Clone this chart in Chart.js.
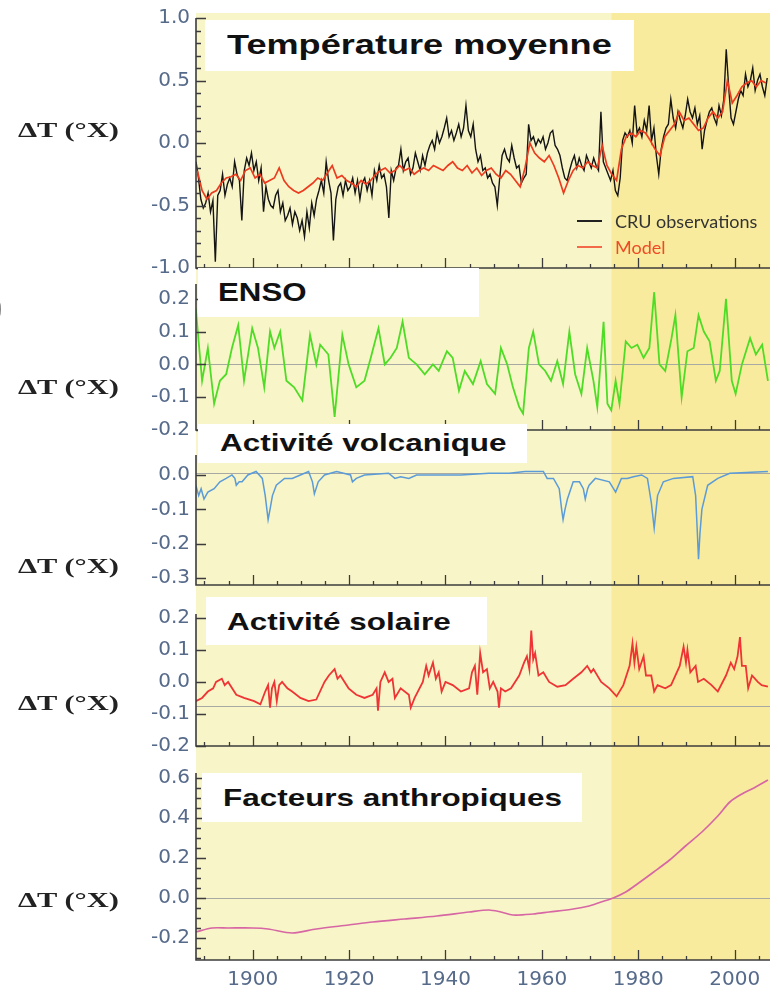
<!DOCTYPE html>
<html>
<head>
<meta charset="utf-8">
<script src="https://cdn.jsdelivr.net/npm/chart.js@4.4.1/dist/chart.umd.min.js"></script>
<style>
  body { margin: 0; background: #fff; }
  #wrap { position: relative; width: 778px; height: 992px; overflow: hidden; }
  canvas { position: absolute; left: 0; }
  .box { position: absolute; background: #fff; z-index: 5; }
  .box span { position: absolute; white-space: nowrap; font-family: "Liberation Sans", Arial, sans-serif;
    font-weight: bold; color: #111; transform-origin: left center; }
  .dt { position: absolute; left: 18px; z-index: 5; font-family: "Liberation Serif", serif; font-weight: bold;
    font-size: 21px; color: #222; white-space: nowrap; transform: scaleX(1.45); transform-origin: left center; line-height: 24px; }
  .leg { position: absolute; z-index: 5; font-family: Lato, sans-serif; font-size: 18px; white-space: nowrap; line-height: 20px; }
  .legline { position: absolute; height: 2px; z-index: 5; }
</style>
</head>
<body>
<div id="wrap">
  <canvas id="c1" style="top:0px" width="778" height="290"></canvas>
  <canvas id="c2" style="top:264px" width="778" height="188"></canvas>
  <canvas id="c3" style="top:428px" width="778" height="181"></canvas>
  <canvas id="c4" style="top:585px" width="778" height="187"></canvas>
  <canvas id="c5" style="top:748px" width="778" height="244"></canvas>

  <div class="box" style="left:205px;top:20px;width:429px;height:51px"><span style="left:22px;top:9px;font-size:28px;transform:scaleX(1.29)">Température moyenne</span></div>
  <div class="box" style="left:198px;top:268px;width:281px;height:49px"><span style="left:20px;top:10px;font-size:25px;transform:scaleX(1.25)">ENSO</span></div>
  <div class="box" style="left:198px;top:424px;width:329px;height:39px"><span style="left:22px;top:5px;font-size:24px;transform:scaleX(1.31)">Activité volcanique</span></div>
  <div class="box" style="left:206px;top:597px;width:281px;height:48px"><span style="left:21px;top:11px;font-size:24px;transform:scaleX(1.31)">Activité solaire</span></div>
  <div class="box" style="left:202px;top:773px;width:380px;height:49px"><span style="left:21px;top:11px;font-size:24px;transform:scaleX(1.31)">Facteurs anthropiques</span></div>

  <div class="dt" style="top:118px">ΔT (°X)</div>
  <div class="dt" style="top:375px">ΔT (°X)</div>
  <div class="dt" style="top:554px">ΔT (°X)</div>
  <div class="dt" style="top:691px">ΔT (°X)</div>
  <div class="dt" style="top:888px">ΔT (°X)</div>
  <div style="position:absolute;left:-12px;top:280px;font-family:'Liberation Serif',serif;font-size:44px;color:#555">)</div>

  <div class="legline" style="left:577px;top:220px;width:25px;background:#222"></div>
  <div class="leg" style="left:615px;top:211px;color:#333">CRU observations</div>
  <div class="legline" style="left:577px;top:246px;width:25px;background:#f26a4a"></div>
  <div class="leg" style="left:615px;top:237px;color:#f04a24">Model</div>
</div>
<script>
// x axis
const xMin = 1888.24, xMax = 2007.33
const shadeFrom = 1974.4
const xLabels = [1900, 1920, 1940, 1960, 1980, 2000]

// Température moyenne : CRU observations (2 values a year from 1888.25) and model (1 a year from 1888.5)
const obsStart = 1888.25
const obsValues = [
  -0.15,-0.28,-0.45,-0.52,-0.48,-0.40,-0.55,-0.46,-0.95,-0.42,
  -0.38,-0.25,-0.42,-0.33,-0.28,-0.35,-0.15,-0.25,-0.30,-0.62,
  -0.22,-0.12,-0.18,-0.08,-0.22,-0.15,-0.30,-0.20,-0.55,-0.35,
  -0.45,-0.50,-0.52,-0.42,-0.38,-0.55,-0.48,-0.62,-0.58,-0.52,
  -0.65,-0.55,-0.60,-0.70,-0.62,-0.75,-0.55,-0.68,-0.48,-0.58,
  -0.45,-0.38,-0.30,-0.40,-0.15,-0.30,-0.40,-0.78,-0.45,-0.35,
  -0.32,-0.42,-0.30,-0.38,-0.35,-0.28,-0.40,-0.30,-0.45,-0.32,
  -0.28,-0.38,-0.30,-0.42,-0.22,-0.30,-0.18,-0.28,-0.25,-0.35,
  -0.60,-0.22,-0.30,-0.20,-0.18,-0.05,-0.22,-0.15,-0.12,-0.25,
  -0.20,-0.08,-0.15,-0.22,-0.10,-0.18,-0.08,-0.02,0.02,-0.05,
  0.08,0.00,0.05,0.12,0.20,0.05,0.10,0.02,0.08,0.15,
  0.05,0.12,0.30,0.10,0.05,0.15,-0.05,-0.15,-0.10,-0.22,
  -0.20,-0.28,-0.25,-0.32,-0.35,-0.50,-0.28,-0.10,-0.05,-0.12,
  -0.15,-0.02,-0.12,-0.20,-0.18,-0.32,-0.28,-0.25,0.15,0.02,
  0.05,-0.02,0.03,0.00,0.05,-0.05,0.00,0.08,0.10,-0.02,
  -0.05,-0.10,-0.20,-0.28,-0.30,-0.22,-0.15,-0.10,-0.20,-0.12,
  -0.18,-0.22,-0.10,-0.15,-0.20,-0.12,-0.18,-0.22,0.25,-0.15,
  -0.20,-0.25,-0.30,-0.22,-0.38,-0.42,-0.28,0.02,0.08,0.05,
  0.10,0.00,0.30,0.08,0.12,0.05,0.18,0.10,0.30,0.02,
  0.12,-0.10,-0.25,-0.05,0.05,0.12,0.15,0.35,0.20,0.12,
  0.25,0.18,0.12,0.22,0.35,0.25,0.20,0.28,0.15,0.22,
  -0.05,0.10,0.18,0.25,0.28,0.20,0.15,0.30,0.22,0.35,
  0.75,0.45,0.20,0.15,0.25,0.35,0.42,0.38,0.55,0.45,
  0.50,0.60,0.42,0.50,0.55,0.45,0.38,0.52
]
const modelStart = 1888.5
const modelValues = [
  -0.22,-0.38,-0.45,-0.40,-0.38,-0.32,-0.28,-0.27,-0.25,-0.30,
  -0.22,-0.20,-0.28,-0.25,-0.32,-0.30,-0.28,-0.20,-0.30,-0.35,
  -0.38,-0.40,-0.38,-0.35,-0.32,-0.28,-0.30,-0.24,-0.18,-0.28,
  -0.26,-0.30,-0.32,-0.35,-0.30,-0.33,-0.30,-0.25,-0.22,-0.20,
  -0.24,-0.22,-0.18,-0.22,-0.20,-0.25,-0.22,-0.20,-0.22,-0.18,
  -0.20,-0.22,-0.18,-0.15,-0.20,-0.22,-0.18,-0.24,-0.20,-0.26,
  -0.22,-0.20,-0.25,-0.28,-0.22,-0.25,-0.30,-0.35,-0.20,0.00,
  -0.08,-0.12,-0.15,-0.10,-0.18,-0.28,-0.40,-0.30,-0.22,-0.18,
  -0.20,-0.15,-0.18,-0.20,-0.02,-0.18,-0.25,-0.30,-0.05,0.05,
  0.08,0.05,0.10,0.08,0.02,-0.05,-0.10,0.05,0.10,0.15,
  0.25,0.18,0.20,0.15,0.10,0.12,0.20,0.25,0.20,0.25,
  0.50,0.32,0.38,0.45,0.48,0.50,0.45,0.50,0.48
]

// ENSO
const ensoYears = [1888.2,1889.5,1890.7,1892,1893.2,1894.5,1895.7,1897,1898.2,1899.9,1901.1,1902.4,1903.6,1904.5,1905.7,1907,1908.6,1910.3,1911.9,1913.2,1914,1915.7,1917,1918.6,1919.9,1921.5,1923.2,1924.5,1926.1,1927.4,1928.6,1929.9,1931.1,1932.4,1934,1935.7,1937.4,1938.6,1940.3,1941.5,1942.8,1944,1945.7,1947.3,1948.6,1950.3,1951.5,1952.8,1954,1955.3,1956.1,1957.3,1958.2,1959.4,1960.7,1961.9,1963.2,1964.4,1965.7,1966.9,1968.2,1969.4,1970.7,1971.5,1972.8,1973.6,1974.4,1975.3,1976.1,1977.4,1978.6,1979.8,1981.1,1982.3,1983.3,1984.4,1985.6,1986.9,1987.7,1989,1990.2,1991.5,1992.5,1993.6,1994.8,1996.1,1996.9,1998.2,1999.4,2000.2,2001.5,2003.2,2004.4,2005.7,2006.9]
const ensoValues = [0.17,-0.05,0.05,-0.12,-0.05,-0.03,0.05,0.12,-0.05,0.11,0.05,-0.07,0.10,0.05,0.10,-0.05,-0.07,-0.11,0.09,0.00,0.06,0.03,-0.16,0.09,0.00,-0.07,-0.05,0.02,0.11,0.00,0.02,0.05,0.13,0.02,0.00,-0.03,0.00,-0.02,0.04,0.02,-0.08,-0.02,-0.06,0.01,-0.06,-0.09,0.05,0.00,-0.07,-0.13,-0.15,0.05,0.10,0.00,-0.02,-0.05,0.01,-0.06,0.10,-0.03,-0.09,0.05,-0.05,-0.13,0.13,-0.12,-0.14,-0.05,-0.12,0.07,0.05,0.06,0.02,0.05,0.22,0.00,-0.02,0.08,0.15,-0.10,0.04,0.05,0.15,0.10,0.07,-0.05,-0.02,0.20,-0.05,-0.09,0.00,0.08,0.03,0.06,-0.05]

// Activité volcanique
const volcYears = [1888.2,1888.8,1889.3,1889.9,1890.7,1892,1893.2,1894.5,1895.7,1896.3,1896.6,1897.2,1897.8,1899,1900.7,1902,1902.6,1903.2,1903.6,1904.1,1904.9,1906.6,1908.2,1909.9,1911.6,1912.4,1912.8,1913.6,1914.9,1917.4,1920.3,1920.7,1921.5,1923.2,1928.2,1929.5,1930.7,1932.4,1934,1936.5,1943.2,1949,1953.2,1956.5,1960.3,1961.1,1962.4,1963.6,1964.1,1964.4,1964.8,1965.3,1966.5,1967.8,1968.6,1969,1969.5,1969.8,1971.1,1974,1975.3,1976.5,1977.7,1979,1980.7,1981.9,1982.7,1983.3,1983.7,1984,1985.2,1987.3,1991.3,1991.9,1992.2,1992.5,1992.8,1993.2,1994.4,1996.5,1999,2006.9]
const volcValues = [-0.03,-0.06,-0.04,-0.07,-0.05,-0.04,-0.02,-0.01,0.00,-0.01,-0.03,-0.02,-0.02,0.00,0.01,-0.01,-0.06,-0.13,-0.10,-0.06,-0.03,-0.01,-0.01,0.00,0.01,-0.02,-0.055,-0.02,0.00,0.01,0.00,-0.02,-0.01,0.00,0.005,-0.01,-0.005,-0.01,0.00,0.00,0.00,0.005,0.005,0.01,0.01,-0.01,-0.01,-0.04,-0.10,-0.13,-0.10,-0.07,-0.02,-0.02,-0.04,-0.07,-0.04,-0.03,-0.01,-0.02,-0.05,-0.01,-0.01,-0.005,0.00,-0.01,-0.08,-0.155,-0.10,-0.06,-0.02,-0.01,-0.005,-0.06,-0.15,-0.245,-0.17,-0.10,-0.03,-0.01,0.005,0.01]

// Activité solaire
const solarYears = [1888.2,1889.5,1890.7,1891.8,1892.4,1893.6,1894.2,1894.9,1896.6,1898.2,1900.3,1901.6,1902.6,1903.2,1903.6,1904,1904.5,1905,1905.5,1906.1,1907.2,1908.2,1909.9,1911.6,1913.2,1914.9,1915.8,1917,1917.6,1918.2,1919.9,1921.5,1923.2,1924.9,1925.7,1926,1926.5,1927.4,1928.2,1929,1929.5,1930.7,1932.4,1932.8,1933.6,1935.3,1936,1936.5,1937.4,1938,1938.6,1939.2,1940,1941.5,1943.2,1944.9,1945.5,1946.1,1946.6,1947.2,1947.8,1948.6,1949.2,1949.9,1950.8,1951.1,1951.5,1952.4,1953.6,1955.3,1956.3,1956.9,1957.4,1957.8,1958.2,1958.6,1959.3,1960.3,1961.5,1963.2,1964.9,1966.5,1968.2,1969.4,1970.2,1970.7,1972.3,1974,1975.5,1976.9,1978.2,1978.8,1979.2,1979.6,1980.2,1981.1,1981.6,1982.7,1983.3,1984,1985.6,1986.8,1988.6,1989.4,1989.9,1990.2,1990.8,1991.9,1992.4,1993.6,1995.2,1996.5,1998.2,1999.2,1999.9,2000.6,2001.1,2001.5,2002.3,2002.8,2003.6,2004.8,2005.6,2006.9]
const solarValues = [-0.06,-0.05,-0.03,-0.02,0.00,0.01,-0.01,0.00,-0.04,-0.05,-0.06,-0.07,-0.03,-0.01,-0.08,-0.02,0.00,-0.06,-0.01,0.00,-0.02,-0.03,-0.05,-0.06,-0.055,0.00,0.02,0.04,0.01,0.02,-0.02,-0.04,-0.05,-0.04,-0.02,-0.09,0.00,0.03,0.00,0.01,-0.05,-0.02,-0.04,-0.08,-0.05,0.00,0.05,0.02,0.06,0.01,0.03,-0.03,0.00,-0.01,-0.03,-0.02,0.03,0.05,-0.04,0.09,0.03,0.04,-0.02,0.00,-0.03,-0.08,-0.02,-0.03,-0.02,0.02,0.06,0.08,0.04,0.16,0.07,0.09,0.02,0.03,0.00,-0.015,-0.01,0.01,0.03,0.05,0.03,0.04,0.00,-0.02,-0.045,-0.01,0.05,0.12,0.06,0.11,0.04,0.08,0.02,0.02,-0.03,-0.01,-0.02,-0.01,0.05,0.11,0.06,0.10,0.03,0.05,0.00,0.01,-0.01,-0.03,0.02,0.06,0.04,0.08,0.14,0.05,0.05,-0.02,0.02,0.00,-0.01,-0.015]

// Facteurs anthropiques
const anthroYears = [1888.2,1891.6,1894.9,1900,1903.2,1908.2,1913.2,1919.9,1924.9,1931.5,1938.2,1944.9,1949,1951.5,1954,1958.2,1961.5,1966.5,1969.8,1972.3,1974.8,1977.4,1979.8,1983.2,1986.5,1989.8,1993.2,1996.5,1999,2001.5,2004,2006.9]
const anthroValues = [-0.17,-0.15,-0.15,-0.15,-0.155,-0.175,-0.155,-0.135,-0.12,-0.105,-0.09,-0.07,-0.06,-0.07,-0.085,-0.08,-0.07,-0.055,-0.04,-0.02,0.00,0.03,0.07,0.13,0.19,0.26,0.33,0.41,0.48,0.52,0.55,0.59]

const paleYellow = '#f8f5c8'
const deepYellow = '#f9eb9e'
const axisColor = '#3c3c3c'
const tickColor = '#566a8a'

function pts(xs, ys) { return ys.map((v, i) => ({ x: xs[i], y: v })) }
function stepPts(start, step, ys) { return ys.map((v, i) => ({ x: start + i * step, y: v })) }
function line(data, color, width, order) {
  return { data: data, borderColor: color, borderWidth: width, pointRadius: 0, tension: 0, order: order || 0 }
}

const xMinor = []
for (let v = 1890; v <= 2005; v += 5) xMinor.push(v)

function makePanel(id, cfg) {
  const frame = {
    id: 'frame',
    beforeDatasetsDraw(chart) {
      const { ctx, chartArea: a } = chart
      const split = chart.scales.x.getPixelForValue(shadeFrom)
      ctx.save()
      ctx.fillStyle = paleYellow
      ctx.fillRect(a.left, cfg.band[0], split - a.left, cfg.band[1] - cfg.band[0])
      ctx.fillStyle = deepYellow
      ctx.fillRect(split, cfg.band[0], a.right - split, cfg.band[1] - cfg.band[0])
      if (cfg.ref !== null) {
        const y = Math.round(chart.scales.y.getPixelForValue(cfg.ref)) + 0.5
        ctx.strokeStyle = '#a9a9a4'
        ctx.lineWidth = 1.2
        ctx.beginPath(); ctx.moveTo(a.left, y); ctx.lineTo(a.right, y); ctx.stroke()
      }
      ctx.restore()
    },
    afterDatasetsDraw(chart) {
      const { ctx, chartArea: a, scales } = chart
      ctx.save()
      ctx.strokeStyle = axisColor
      ctx.lineWidth = 1.6
      ctx.beginPath()
      ctx.moveTo(a.left, a.top); ctx.lineTo(a.left, a.bottom); ctx.lineTo(a.right, a.bottom)
      ctx.stroke()
      ctx.lineWidth = 1.3
      ctx.beginPath()
      xMinor.forEach(v => {
        const px = Math.round(scales.x.getPixelForValue(v)) + 0.5
        const len = xLabels.includes(v) ? 10 : 4
        ctx.moveTo(px, a.bottom); ctx.lineTo(px, a.bottom - len)
      })
      cfg.yMinor.forEach(v => {
        const py = Math.round(scales.y.getPixelForValue(v)) + 0.5
        const len = cfg.yTicks.some(t => Math.abs(t - v) < 1e-6) ? 10 : 5
        ctx.moveTo(a.left, py); ctx.lineTo(a.left + len, py)
      })
      ctx.stroke()
      ctx.restore()
    }
  }
  const last = !!cfg.last
  return new Chart(document.getElementById(id), {
    type: 'line',
    data: { datasets: cfg.datasets },
    options: {
      responsive: false,
      animation: false,
      devicePixelRatio: 1,
      layout: { padding: { top: cfg.pad[0], bottom: cfg.pad[1], left: 0, right: 8 } },
      plugins: { legend: { display: false }, tooltip: { enabled: false } },
      scales: {
        x: {
          type: 'linear', min: xMin, max: xMax, display: last,
          grid: { display: false, drawTicks: false }, border: { display: false },
          afterFit: s => { s.height = last ? 32 : 0 },
          afterBuildTicks: s => { s.ticks = xLabels.map(v => ({ value: v })) },
          ticks: { font: { family: 'DejaVu Sans', size: 20 }, color: tickColor, padding: 8, maxRotation: 0, autoSkip: false,
                   callback: v => String(v) }
        },
        y: {
          min: cfg.range[0], max: cfg.range[1],
          grid: { display: false, drawTicks: false }, border: { display: false },
          afterFit: s => { s.width = 196 },
          afterBuildTicks: s => { s.ticks = cfg.yTicks.map(v => ({ value: v })) },
          ticks: { font: { family: 'DejaVu Sans', size: 20 }, color: tickColor, padding: 6, autoSkip: false,
                   callback: v => v.toFixed(1) }
        }
      }
    },
    plugins: [frame]
  })
}

function range(a, b, step) {
  const out = []
  for (let v = a; v <= b + 1e-9; v += step) out.push(Math.round(v * 1000) / 1000)
  return out
}

makePanel('c1', {
  band: [13, 276], pad: [15, 22], range: [-1, 1], ref: null,
  yTicks: [-1, -0.5, 0, 0.5, 1], yMinor: range(-1, 1, 0.1),
  datasets: [
    line(stepPts(modelStart, 1, modelValues), '#ec3b1e', 1.7, 0),
    line(stepPts(obsStart, 0.5, obsValues), '#141414', 1.4, 1)
  ]
})
makePanel('c2', {
  band: [12, 176], pad: [20, 22], range: [-0.2, 0.245], ref: 0,
  yTicks: [-0.2, -0.1, 0, 0.1, 0.2], yMinor: [-0.2, -0.1, 0, 0.1, 0.2],
  datasets: [line(pts(ensoYears, ensoValues), '#4fdc26', 1.8)]
})
makePanel('c3', {
  band: [12, 169], pad: [27, 24], range: [-0.32, 0.058], ref: 0.005,
  yTicks: [-0.3, -0.2, -0.1, 0], yMinor: [-0.3, -0.2, -0.1, 0],
  datasets: [line(pts(volcYears, volcValues), '#5a9bd8', 1.5)]
})
makePanel('c4', {
  band: [12, 175], pad: [29, 26], range: [-0.2, 0.212], ref: -0.075,
  yTicks: [-0.2, -0.1, 0, 0.1, 0.2], yMinor: [-0.2, -0.1, 0, 0.1, 0.2],
  datasets: [line(pts(solarYears, solarValues), '#ee3434', 1.8)]
})
makePanel('c5', {
  band: [12, 212], pad: [25, 0], range: [-0.31, 0.625], ref: 0, last: true,
  yTicks: [-0.2, 0, 0.2, 0.4, 0.6], yMinor: range(-0.3, 0.6, 0.05),
  datasets: [Object.assign(line(pts(anthroYears, anthroValues), '#d766a4', 1.7), { tension: 0.3 })]
})
</script>
</body>
</html>
